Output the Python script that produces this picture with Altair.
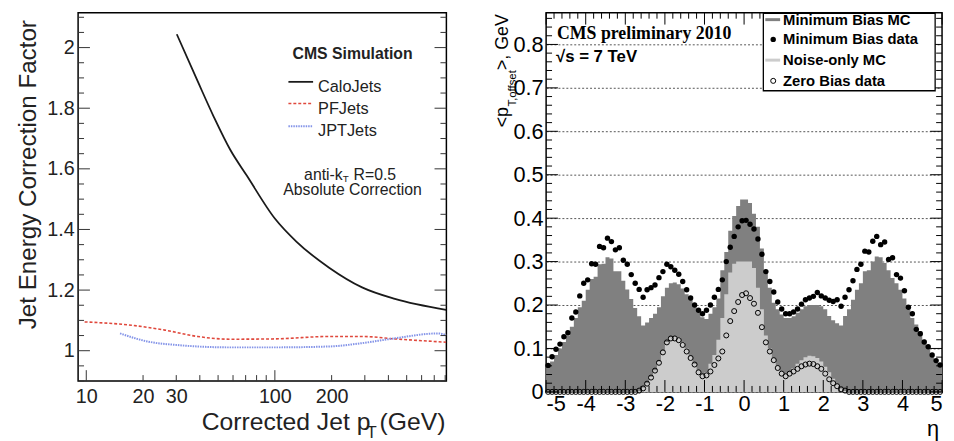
import altair as alt
import pandas as pd
import numpy as np

# ---------------- Left panel data ----------------
calo_pt = [30.2, 38.9, 47.5, 58.0, 71.1, 100, 130, 194, 290, 433, 809]
calo_f = [2.044, 1.890, 1.771, 1.663, 1.577, 1.436, 1.360, 1.274, 1.209, 1.171, 1.135]
pf_pt = [9.8, 17.4, 26.1, 38.9, 58, 100, 194, 290, 433, 809]
pf_f = [1.095, 1.084, 1.068, 1.047, 1.038, 1.039, 1.047, 1.047, 1.039, 1.028]
jpt_pt = [15.1, 21.3, 30, 58, 100, 194, 290, 433, 731, 809]
jpt_f = [1.057, 1.030, 1.019, 1.011, 1.011, 1.014, 1.025, 1.041, 1.057, 1.052]

left_x_labels = [10, 20, 30, 100, 200]
left_x_major = [10, 100]
left_x_minor = [20, 30, 40, 50, 60, 70, 80, 90, 200, 300, 400, 500, 600, 700, 800]
left_y_labels = [1, 1.2, 1.4, 1.6, 1.8, 2]

# ---------------- Right panel data ----------------
mb_mc = [0.06, 0.07, 0.085, 0.1, 0.115, 0.13, 0.15, 0.17, 0.195, 0.21,
         0.235, 0.26, 0.265, 0.294, 0.295, 0.31, 0.307, 0.278, 0.278, 0.256,
         0.236, 0.214, 0.193, 0.174, 0.153, 0.16, 0.17, 0.18, 0.195, 0.22,
         0.24, 0.25, 0.252, 0.248, 0.238, 0.225, 0.212, 0.198, 0.186, 0.172,
         0.168, 0.18, 0.195, 0.215, 0.28, 0.322, 0.371, 0.405, 0.428, 0.443,
         0.443, 0.435, 0.41, 0.38, 0.33, 0.28, 0.24, 0.205, 0.19, 0.178,
         0.17, 0.17, 0.174, 0.182, 0.19, 0.197, 0.2, 0.2, 0.2, 0.197,
         0.19, 0.175, 0.165, 0.158, 0.153, 0.175, 0.19, 0.212, 0.235, 0.25,
         0.278, 0.28, 0.3, 0.312, 0.31, 0.297, 0.28, 0.262, 0.25, 0.235,
         0.215, 0.19, 0.17, 0.155, 0.14, 0.12, 0.1, 0.088, 0.072, 0.062]
noise_mc = [0] * 23 + [
         0.002, 0.01, 0.02, 0.035, 0.05, 0.07, 0.095,
         0.115, 0.126, 0.128, 0.125, 0.115, 0.1, 0.082, 0.065, 0.05, 0.04,
         0.045, 0.065, 0.085, 0.12, 0.17, 0.225, 0.275, 0.295, 0.3, 0.3,
         0.3, 0.3, 0.285, 0.24, 0.19, 0.13, 0.1, 0.078, 0.06, 0.048,
         0.042, 0.045, 0.055, 0.065, 0.073, 0.08, 0.083, 0.082, 0.078, 0.07,
         0.058, 0.045, 0.03, 0.018, 0.008, 0.002] + [0] * 24
mb_data = [0.061, 0.081, 0.098, 0.11, 0.127, 0.136, 0.17, 0.184, 0.221, 0.25,
           0.258, 0.295, 0.294, 0.335, 0.332, 0.354, 0.346, 0.327, 0.332, 0.303,
           0.294, 0.27, 0.25, 0.236, 0.218, 0.235, 0.24, 0.246, 0.263, 0.277,
           0.294, 0.288, 0.28, 0.271, 0.254, 0.235, 0.216, 0.2, 0.188, 0.18,
           0.188, 0.2, 0.218, 0.236, 0.258, 0.3, 0.333, 0.358, 0.38, 0.394,
           0.395, 0.386, 0.375, 0.352, 0.317, 0.277, 0.254, 0.23, 0.207, 0.191,
           0.18, 0.18, 0.184, 0.191, 0.202, 0.212, 0.216, 0.22, 0.229, 0.221,
           0.216, 0.211, 0.208, 0.212, 0.197, 0.218, 0.235, 0.256, 0.282, 0.294,
           0.324, 0.322, 0.347, 0.358, 0.339, 0.345, 0.305, 0.309, 0.27, 0.262,
           0.233, 0.195, 0.18, 0.144, 0.134, 0.115, 0.104, 0.085, 0.072, 0.062]
zb_data = [0] * 23 + [
           0.003, 0.008, 0.019, 0.033, 0.049, 0.067, 0.091,
           0.114, 0.123, 0.123, 0.119, 0.108, 0.093, 0.078, 0.063, 0.045, 0.036,
           0.038, 0.047, 0.062, 0.077, 0.093, 0.13, 0.163, 0.186, 0.207, 0.223,
           0.227, 0.216, 0.203, 0.182, 0.149, 0.114, 0.093, 0.073, 0.055, 0.042,
           0.036, 0.042, 0.047, 0.053, 0.059, 0.063, 0.065, 0.064, 0.059, 0.053,
           0.042, 0.029, 0.02, 0.013, 0.006, 0.003] + [0] * 24

right_x_labels = [-5, -4, -3, -2, -1, 0, 1, 2, 3, 4, 5]
right_y_labels = [0, 0.1, 0.2, 0.3, 0.4, 0.5, 0.6, 0.7, 0.8]

FONT = "Liberation Sans"
WL, HL = 373, 373
WR, HR = 401, 384


def txt(s, x, y, size, **kw):
    return alt.Chart(pd.DataFrame({"t": [s]})).mark_text(
        fontSize=size, font=kw.pop("font", FONT), **kw
    ).encode(x=alt.value(x), y=alt.value(y), text="t:N")


def seg(x1, x2, y1, y2, **kw):
    return alt.Chart(pd.DataFrame({"a": [0]})).mark_rule(**kw).encode(
        x=alt.value(x1), x2=alt.value(x2), y=alt.value(y1), y2=alt.value(y2))


# ---------------- Left panel ----------------
xs_l = alt.Scale(type="log", domain=[9.05, 812], nice=False)
ys_l = alt.Scale(domain=[0.9, 2.115], nice=False, zero=False)

x_axis_l = alt.Axis(values=left_x_labels, labelExpr="'' + datum.value", ticks=False, tickSize=0,
                    domain=False, grid=False, title=None, labelFontSize=20, labelPadding=6,
                    labelColor="#222", labelFont=FONT)
y_axis_l = alt.Axis(values=left_y_labels, labelExpr="'' + datum.value", ticks=False, tickSize=0,
                    domain=False, grid=False, title=None, labelFontSize=20, labelPadding=4,
                    labelColor="#222", labelFont=FONT)

calo_df = pd.DataFrame({"pt": calo_pt, "f": calo_f})
pf_df = pd.DataFrame({"pt": pf_pt, "f": pf_f})
jpt_df = pd.DataFrame({"pt": jpt_pt, "f": jpt_f})

XL = alt.X("pt:Q", scale=xs_l, axis=x_axis_l)
YL = alt.Y("f:Q", scale=ys_l, axis=y_axis_l)

calo = alt.Chart(calo_df).mark_line(color="#1a1a1a", strokeWidth=1.8, interpolate="monotone").encode(
    x=XL, y=YL)
pf = alt.Chart(pf_df).mark_line(color="#e0483c", strokeWidth=1.6, strokeDash=[3, 2],
                                interpolate="monotone").encode(x=XL, y=YL)
jpt = alt.Chart(jpt_df).mark_line(color="#8494e8", strokeWidth=2, strokeDash=[1.5, 1],
                                  interpolate="monotone").encode(x=XL, y=YL)

ly_major = pd.DataFrame({"f": left_y_labels})
ly_minor = pd.DataFrame({"f": [v for v in np.round(np.arange(0.9, 2.1001, 0.05), 2)
                               if round(v * 5, 6) != round(v * 5)]})
lx_major = pd.DataFrame({"pt": left_x_major})
lx_minor = pd.DataFrame({"pt": left_x_minor})


def ytl(df, x1, x2):
    return alt.Chart(df).mark_rule(color="#333", strokeWidth=1).encode(
        y=YL, x=alt.value(x1), x2=alt.value(x2))


def xtl(df, y1, y2):
    return alt.Chart(df).mark_rule(color="#333", strokeWidth=1).encode(
        x=XL, y=alt.value(y1), y2=alt.value(y2))


left_ticks = [
    ytl(ly_major, 0, 12), ytl(ly_minor, 0, 6),
    ytl(ly_major, WL - 12, WL), ytl(ly_minor, WL - 6, WL),
    xtl(lx_major, HL, HL - 11), xtl(lx_minor, HL, HL - 6),
]

left_text = [
    txt("CMS Simulation", 278, 42, 16, fontWeight="bold", align="center", color="#222"),
    seg(213, 238, 70, 70, color="#1a1a1a", strokeWidth=1.8),
    txt("CaloJets", 243, 75, 16.5, align="left", color="#222"),
    seg(213, 238, 92, 92, color="#e0483c", strokeWidth=1.6, strokeDash=[3, 2]),
    txt("PFJets", 243, 98, 16.5, align="left", color="#222"),
    seg(213, 238, 115, 115, color="#8494e8", strokeWidth=2, strokeDash=[1.5, 1]),
    txt("JPTJets", 243, 120, 16.5, align="left", color="#222"),
    txt("anti-k", 268, 164, 16, align="right", color="#222"),
    txt("T", 268, 168, 10, align="left", color="#222"),
    txt("R=0.5", 279, 164, 16, align="left", color="#222"),
    txt("Absolute Correction", 278, 180, 16, align="center", color="#222"),
    txt("Jet Energy Correction Factor", -50, 164, 24.5, angle=270, align="center", color="#222"),
    txt("Corrected Jet p", 296, 415, 25, align="right", color="#222"),
    txt("T", 292, 426, 17, align="left", color="#222"),
    txt("(GeV)", 372, 415, 25, align="right", color="#222"),
]

left = alt.layer(calo, pf, jpt, *left_ticks, *left_text).properties(width=WL, height=HL)

# ---------------- Right panel ----------------
xs_r = alt.Scale(domain=[-5, 5], nice=False, zero=False)
ys_r = alt.Scale(domain=[0, 0.873], nice=False)

edges = list(np.round(np.arange(-5, 5.0001, 0.1), 2))
centers = list(np.round(np.arange(-4.95, 5, 0.1), 3))
hist_df = pd.DataFrame({"eta": edges, "mb": mb_mc + [mb_mc[-1]], "noise": noise_mc + [noise_mc[-1]]})
pts_df = pd.DataFrame({"eta": centers, "mb": mb_data, "zb": zb_data})

x_axis_r = alt.Axis(values=right_x_labels, labelExpr="'' + datum.value", ticks=False, tickSize=0,
                    domain=False, grid=False, title=None, labelFontSize=22, labelPadding=2,
                    labelColor="black", labelFont=FONT)
y_axis_r = alt.Axis(values=right_y_labels, labelExpr="'' + datum.value", ticks=False, tickSize=0,
                    domain=False, grid=True, gridDash=[2, 2], gridColor="#555", gridWidth=1,
                    title=None, labelFontSize=22, labelPadding=3, labelColor="black", labelFont=FONT)

XR = alt.X("eta:Q", scale=xs_r, axis=x_axis_r)


def YR(field):
    return alt.Y(field + ":Q", scale=ys_r, axis=y_axis_r)


mb_area = alt.Chart(hist_df).mark_area(interpolate="step-after", color="#808080").encode(
    x=XR, y=YR("mb"))
noise_area = alt.Chart(hist_df).mark_area(interpolate="step-after", color="#cccccc").encode(
    x=XR, y=YR("noise"))
mb_pts = alt.Chart(pts_df).mark_point(shape="circle", filled=True, color="black", size=30, opacity=1).encode(
    x=XR, y=YR("mb"))
zb_pts = alt.Chart(pts_df).mark_point(shape="circle", filled=False, color="black", size=26,
                                      strokeWidth=1, opacity=1).encode(x=XR, y=YR("zb"))

ry_major = pd.DataFrame({"v": right_y_labels})
ry_minor = pd.DataFrame({"v": [v for v in np.round(np.arange(0, 0.8701, 0.02), 2)
                               if round(v * 10, 6) != round(v * 10)]})
rx_major = pd.DataFrame({"eta": right_x_labels})
rx_minor = pd.DataFrame({"eta": [v for v in np.round(np.arange(-5, 5.0001, 0.2), 1)
                                 if round(v, 6) != round(v)]})


def yt(df, x1, x2):
    return alt.Chart(df).mark_rule(color="black", strokeWidth=1).encode(
        y=YR("v"), x=alt.value(x1), x2=alt.value(x2))


def xt(df, y1, y2):
    return alt.Chart(df).mark_rule(color="black", strokeWidth=1).encode(
        x=XR, y=alt.value(y1), y2=alt.value(y2))


right_ticks = [
    yt(ry_major, 0, 12), yt(ry_minor, 0, 6), yt(ry_major, WR - 12, WR), yt(ry_minor, WR - 6, WR),
    xt(rx_major, HR, HR - 12), xt(rx_minor, HR, HR - 6), xt(rx_major, 0, 12), xt(rx_minor, 0, 6),
]

legend_box = alt.Chart(pd.DataFrame({"a": [0]})).mark_rect(
    fill="white", stroke="black", strokeWidth=1.3).encode(
    x=alt.value(220), x2=alt.value(394), y=alt.value(0.7), y2=alt.value(79))

right_text = [
    legend_box,
    seg(222, 237, 7, 7, color="#808080", strokeWidth=3),
    txt("Minimum Bias MC", 240, 7, 15, fontWeight="bold", align="left", baseline="middle"),
    alt.Chart(pd.DataFrame({"a": [0]})).mark_point(shape="circle", filled=True, color="black",
                                                   size=30, opacity=1).encode(
        x=alt.value(230), y=alt.value(27)),
    txt("Minimum Bias data", 240, 27, 15, fontWeight="bold", align="left", baseline="middle"),
    seg(222, 237, 48, 48, color="#cccccc", strokeWidth=3),
    txt("Noise-only MC", 240, 48, 15, fontWeight="bold", align="left", baseline="middle"),
    alt.Chart(pd.DataFrame({"a": [0]})).mark_point(shape="circle", filled=False, color="black",
                                                   size=26, strokeWidth=1, opacity=1).encode(
        x=alt.value(230), y=alt.value(69)),
    txt("Zero Bias data", 240, 69, 15, fontWeight="bold", align="left", baseline="middle"),
    txt("CMS preliminary 2010", 11, 22, 18, font="Liberation Serif", fontWeight="bold", align="left"),
    txt("\u221As = 7 TeV", 10, 45, 17, fontWeight="bold", align="left"),
    txt("\u03b7", WR - 3, HR + 38, 22, align="right"),
    txt("<p", -44, 116, 18, angle=270, align="left"),
    txt("T,offset", -33, 95, 11.5, angle=270, align="left"),
    txt(">, GeV", -44, 58, 18, angle=270, align="left"),
]

right = alt.layer(mb_area, noise_area, mb_pts, zb_pts, *right_ticks, *right_text).properties(
    width=WR, height=HR)

chart = alt.concat(left, right, columns=2, spacing=42, align="none", bounds="full").properties(
    padding={"left": 7, "top": 0, "right": 0, "bottom": 0}).configure_view(
    stroke="black", strokeWidth=1.5).configure_text(font=FONT)

chart.save("out.html", embed_options={"renderer": "svg", "actions": False})
